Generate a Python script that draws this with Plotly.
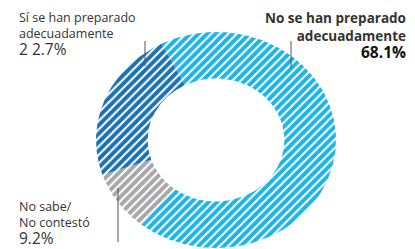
import numpy as np
import plotly.graph_objects as go

# ---- data ----
labels = ["No se han preparado adecuadamente", "No sabe/ No contestó", "Sí se han preparado adecuadamente"]
values = [68.1, 9.2, 22.7]
pct_text = ["68.1%", "9.2%", "2 2.7%"]
colors = ["#1cb4e4", "#a7a7a9", "#1a70b2"]

# ---- geometry (pixel units) ----
W, H = 415, 249
CX, CY = 208, 132
A_OUT, B_OUT = 120, 108
HOLE = 0.57
START_DEG = -27  # clockwise from 12 o'clock

fig = go.Figure()
total = sum(values)
cum = START_DEG
for lab, v, c in zip(labels, values, colors):
    span = v / total * 360
    t = np.radians(np.linspace(cum, cum + span, 150))
    xo = CX + A_OUT * np.sin(t)
    yo = CY - B_OUT * np.cos(t)
    xi = CX + A_OUT * HOLE * np.sin(t[::-1])
    yi = CY - B_OUT * HOLE * np.cos(t[::-1])
    x = np.concatenate([xo, xi, xo[:1]])
    y = np.concatenate([yo, yi, yo[:1]])
    fig.add_trace(go.Scatter(
        x=x, y=y, fill="toself", mode="lines",
        line=dict(width=0, color=c), fillcolor=c,
        fillpattern=dict(shape="/", fgcolor="white", bgcolor=c, size=6,
                         solidity=0.35, fillmode="replace"),
        hoverinfo="text", text=lab, showlegend=False))
    cum += span

FONT = "Open Sans"
TXT = "#333333"
ann = []
def add(x, y, lines, pct, size, anchor, bold=False, pct_color=TXT):
    body = "<br>".join(lines)
    pct_html = f"<span style='font-size:15.5px;color:{pct_color}'>{pct}</span>"
    text = body + "<br>" + pct_html
    if bold:
        text = f"<b>{text}</b>"
    ann.append(dict(x=x, y=y, xref="x", yref="y", text=text, showarrow=False,
                    xanchor=anchor, yanchor="top", align=anchor, borderpad=0,
                    font=dict(family=FONT, size=size, color=TXT)))

add(10, 0, ["Sí se han preparado", "adecuadamente"], pct_text[2], 12.5, "left")
add(399, 0, ["No se han preparado", "adecuadamente"], pct_text[0], 13.5, "right",
    bold=True, pct_color="#111111")
add(10, 189, ["No sabe/", "No contestó"], pct_text[1], 12.5, "left")

shapes = [
    dict(type="line", x0=137, x1=137, y0=33, y1=58, xref="x", yref="y",
         line=dict(color="#555555", width=1)),
    dict(type="line", x0=283, x1=283, y0=33, y1=60, xref="x", yref="y",
         line=dict(color="#555555", width=1)),
    dict(type="line", x0=110, x1=110, y0=180, y1=234, xref="x", yref="y",
         line=dict(color="#555555", width=1)),
]

fig.update_layout(
    width=W, height=H, margin=dict(l=0, r=0, t=0, b=0),
    paper_bgcolor="white", plot_bgcolor="white",
    xaxis=dict(range=[0, W], visible=False, fixedrange=True),
    yaxis=dict(range=[H, 0], visible=False, fixedrange=True),
    annotations=ann, shapes=shapes,
)
fig.write_html("out.html")
